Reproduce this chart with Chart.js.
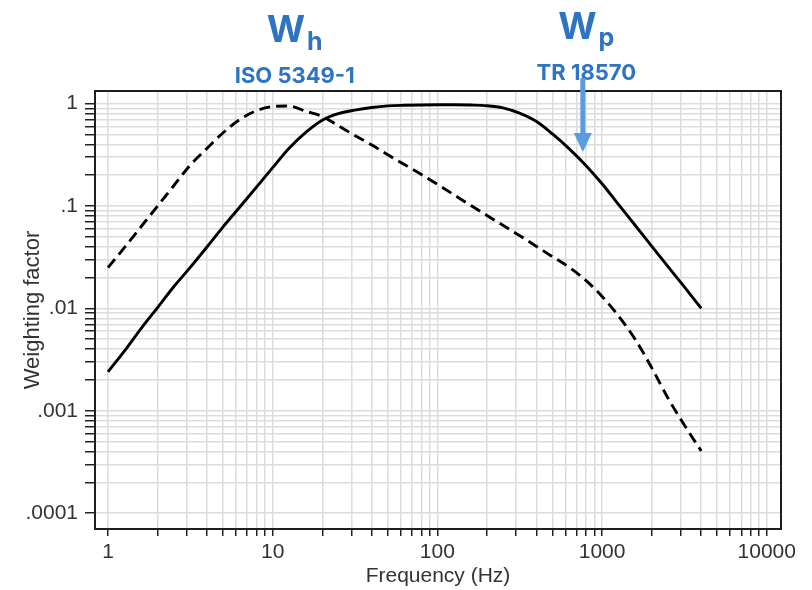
<!DOCTYPE html>
<html><head><meta charset="utf-8">
<style>html,body{margin:0;padding:0;background:#fff;}#wrap{width:812px;height:590px;position:relative;}</style>
<script src="https://cdn.jsdelivr.net/npm/chart.js@4.4.1/dist/chart.umd.min.js"></script>
</head><body><div id="wrap"><canvas id="c" width="812" height="590"></canvas></div>
<script>
// ---- data ----
const frequencies = [1,1.25,1.6,2,2.5,3.15,4,5,6.3,8,10,12.5,16,20,25,31.5,40,50,63,80,100,125,160,200,250,315,400,500,630,800,1000,1250,1600,2000,2500,3150,4000];
const whValues = [0.025,0.0388,0.0638,0.1,0.157,0.25,0.367,0.52,0.70,0.855,0.937,0.95,0.84,0.75,0.61,0.49,0.394,0.317,0.254,0.203,0.163,0.130,0.101,0.081,0.0648,0.0515,0.0403,0.032,0.0253,0.0187,0.0131,0.00855,0.0049,0.00264,0.00135,0.00073,0.000404];
const wpValues = [0.0024,0.00378,0.00646,0.0102,0.0162,0.025,0.04,0.0627,0.0973,0.154,0.237,0.363,0.53,0.69,0.80,0.865,0.918,0.952,0.965,0.972,0.975,0.975,0.97,0.955,0.91,0.81,0.67,0.506,0.364,0.248,0.165,0.105,0.0638,0.0406,0.0259,0.0163,0.01];
const xDecades = [1,10,100,1000,10000];
const xTickLabels = ['1','10','100','1000','10000'];
const yDecades = [0.0001,0.001,0.01,0.1,1];
const yTickLabels = ['.0001','.001','.01','.1','1'];
const xRange = [0.834, 12200];
const yRange = [7.26e-5, 1.33];
const xTitle = 'Frequency (Hz)';
const yTitle = 'Weighting factor';
const labelWh = {main:'W', sub:'h', standard:'ISO 5349-1', freq:13.6};
const labelWp = {main:'W', sub:'p', standard:'TR 18570', freq:802};
const arrowTarget = {freq:764, weight:0.338};

// ---- helpers ----
function logTicks(decades, min, max){
  const out=[];
  for(const d of decades){for(let m=1;m<=9;m++){const v=+(m*d).toPrecision(6);if(v>=min&&v<=max)out.push({value:v});}}
  return out;
}
function decadeLabel(decades, labels){
  return function(value){
    for(let i=0;i<decades.length;i++){if(Math.abs(value/decades[i]-1)<1e-6)return labels[i];}
    return '';
  };
}
const axisFont = "'Liberation Sans', Arial, sans-serif";
const axisColor = '#333';
const titleBlue = '#2f74c3';
const arrowBlue = '#5b9be0';

function drawWLabel(ctx, cx, lab, baseMain, baseSub, baseStd){
  ctx.fillStyle = titleBlue;
  ctx.textBaseline = 'alphabetic';
  ctx.textAlign = 'left';
  ctx.font = "700 37px Inter";
  const w1 = ctx.measureText(lab.main).width;
  ctx.font = "700 25px Inter";
  const w2 = ctx.measureText(lab.sub).width;
  const left = cx - (w1 + 2 + w2)/2;
  ctx.font = "700 37px Inter";
  ctx.fillText(lab.main, left, baseMain);
  ctx.font = "700 25px Inter";
  ctx.fillText(lab.sub, left + w1 + 2, baseSub);
  ctx.font = "700 22px Inter";
  ctx.textAlign = 'center';
  ctx.fillText(lab.standard, cx, baseStd);
}

const overlay = {
  id:'overlay',
  afterDraw(chart){
    const {ctx, chartArea:a, scales:{x, y}} = chart;
    ctx.save();
    ctx.strokeStyle = '#1e1e1e';
    ctx.lineWidth = 2;
    ctx.strokeRect(a.left, a.top, a.right-a.left, a.bottom-a.top);
    drawWLabel(ctx, x.getPixelForValue(labelWh.freq), labelWh, 42, 50, 83);
    drawWLabel(ctx, x.getPixelForValue(labelWp.freq), labelWp, 38.5, 45.5, 80);
    // arrow
    const ax = x.getPixelForValue(arrowTarget.freq);
    const tip = y.getPixelForValue(arrowTarget.weight);
    ctx.fillStyle = arrowBlue;
    ctx.fillRect(ax-2.5, 78, 5, tip-19-78+1);
    ctx.beginPath();
    ctx.moveTo(ax-9, tip-19);
    ctx.lineTo(ax+9, tip-19);
    ctx.lineTo(ax, tip);
    ctx.closePath();
    ctx.fill();
    ctx.restore();
  }
};

const toPts = vals => frequencies.map((f,i)=>({x:f, y:vals[i]}));

new Chart(document.getElementById('c'), {
  type:'line',
  data:{datasets:[
    {label:'Wh (ISO 5349-1)', data:toPts(whValues), borderColor:'#000', borderWidth:2.9, borderDash:[11,6], pointRadius:0, fill:false, cubicInterpolationMode:'monotone'},
    {label:'Wp (TR 18570)', data:toPts(wpValues), borderColor:'#000', borderWidth:2.9, pointRadius:0, fill:false, cubicInterpolationMode:'monotone'}
  ]},
  options:{
    responsive:false, animation:false, devicePixelRatio:1,
    layout:{padding:{top:91, right:31, left:0, bottom:0}},
    plugins:{legend:{display:false}, tooltip:{enabled:false}},
    scales:{
      x:{
        type:'logarithmic', min:xRange[0], max:xRange[1],
        afterFit(s){s.height = 61;},
        afterBuildTicks(s){s.ticks = logTicks(xDecades, xRange[0], xRange[1]);},
        grid:{color:'#dcdcdc', lineWidth:1.5, tickColor:'#222', tickLength:7, tickWidth:1.5},
        border:{display:false},
        ticks:{autoSkip:false, maxRotation:0, minRotation:0, padding:4, color:axisColor, font:{family:axisFont, size:21}, callback:decadeLabel(xDecades, xTickLabels)},
        title:{display:true, text:xTitle, color:axisColor, font:{family:axisFont, size:21}, padding:{top:0, bottom:1}}
      },
      y:{
        type:'logarithmic', min:yRange[0], max:yRange[1],
        afterFit(s){s.width = 95;},
        afterBuildTicks(s){s.ticks = logTicks(yDecades, yRange[0], yRange[1]);},
        grid:{color:'#dcdcdc', lineWidth:1.5, tickColor:'#222', tickLength:10, tickWidth:1.5},
        border:{display:false},
        ticks:{autoSkip:false, padding:7, color:axisColor, font:{family:axisFont, size:21}, callback:decadeLabel(yDecades, yTickLabels)},
        title:{display:true, text:yTitle, color:axisColor, font:{family:axisFont, size:22}, padding:{top:20, bottom:0}}
      }
    }
  },
  plugins:[overlay]
});
</script></body></html>
